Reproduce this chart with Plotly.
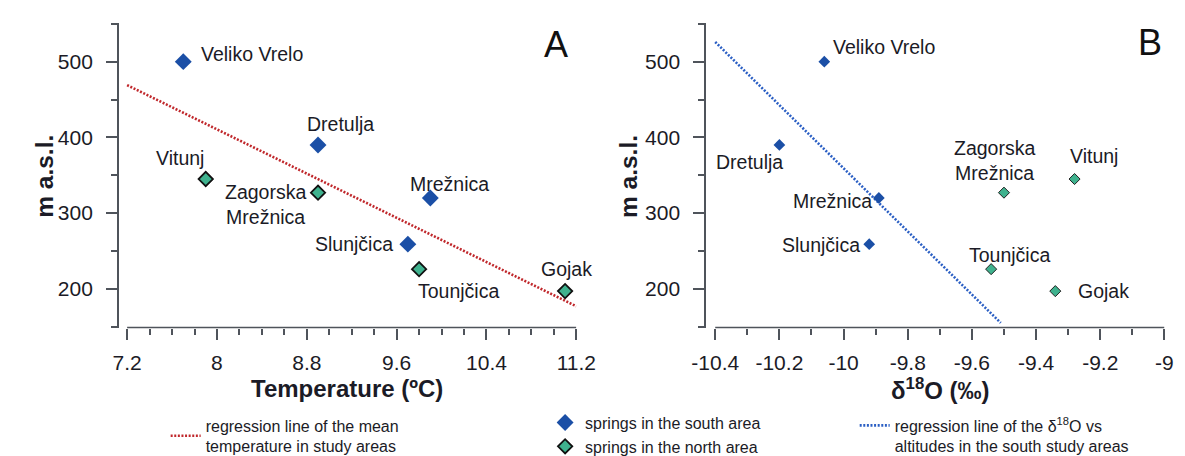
import plotly.graph_objects as go

# ---------------- data ----------------
south_names = ["Veliko Vrelo", "Dretulja", "Mrežnica", "Slunjčica"]
south_alt = [500, 390, 320, 259]
south_temp = [7.7, 8.9, 9.9, 9.7]
south_d18o = [-10.06, -10.20, -9.89, -9.92]

north_names = ["Vitunj", "Zagorska<br>Mrežnica", "Tounjčica", "Gojak"]
north_alt = [345, 327, 226, 197]
north_temp = [7.9, 8.9, 9.8, 11.1]
north_d18o = [-9.28, -9.50, -9.54, -9.34]

reg_a_temp = [7.2, 11.2]
reg_a_alt = [469, 177]
reg_b_d18o = [-10.4, -9.51]
reg_b_alt = [526, 155]

ticks_a_x = [7.2, 8.0, 8.8, 9.6, 10.4, 11.2]
ticks_a_x_text = ["7.2", "8", "8.8", "9.6", "10.4", "11.2"]
ticks_b_x = [-10.4, -10.2, -10.0, -9.8, -9.6, -9.4, -9.2, -9.0]
ticks_b_x_text = ["-10.4", "-10.2", "-10", "-9.8", "-9.6", "-9.4", "-9.2", "-9"]
ticks_y = [200, 300, 400, 500]
ticks_y_text = ["200", "300", "400", "500"]

legend_text_a = "regression line of the mean<br>temperature in study areas"
legend_text_south = "springs in the south area"
legend_text_north = "springs in the north area"
legend_text_b = "regression line of the δ<sup>18</sup>O vs<br>altitudes in the south study areas"

# ---------------- style ----------------
W, H = 1185, 456
FONT = "Arial, 'Liberation Sans', sans-serif"
TXT = "#1b1b26"
AX = "#4f545b"
BLUE = "#1b4fa6"
GREEN = "#3fb28e"
RED = "#c0282c"
LBLUE = "#2b5fc4"


def px(x):
    return x / W


def py(y):
    return 1 - y / H


fig = go.Figure()

# Panel A
fig.add_trace(go.Scatter(x=reg_a_temp, y=reg_a_alt, mode="lines",
                         line=dict(color=RED, width=2.6, dash="2px,1.6px"),
                         name=legend_text_a, legend="legend",
                         xaxis="x", yaxis="y"))
fig.add_trace(go.Scatter(x=south_temp, y=south_alt, mode="markers",
                         marker=dict(symbol="diamond", size=13, color=BLUE,
                                     line=dict(width=0)),
                         name=legend_text_south, legend="legend2",
                         xaxis="x", yaxis="y"))
fig.add_trace(go.Scatter(x=north_temp, y=north_alt, mode="markers",
                         marker=dict(symbol="diamond", size=11, color=GREEN,
                                     line=dict(width=1.8, color="#111111")),
                         name=legend_text_north, legend="legend2",
                         xaxis="x", yaxis="y"))
# Panel B
fig.add_trace(go.Scatter(x=reg_b_d18o, y=reg_b_alt, mode="lines",
                         line=dict(color=LBLUE, width=2.6, dash="2px,1.6px"),
                         name=legend_text_b, legend="legend3",
                         xaxis="x2", yaxis="y2"))
fig.add_trace(go.Scatter(x=south_d18o, y=south_alt, mode="markers",
                         marker=dict(symbol="diamond", size=9, color=BLUE,
                                     line=dict(width=0)),
                         showlegend=False, xaxis="x2", yaxis="y2"))
fig.add_trace(go.Scatter(x=north_d18o, y=north_alt, mode="markers",
                         marker=dict(symbol="diamond", size=8.5, color=GREEN,
                                     line=dict(width=1, color="#222222")),
                         showlegend=False, xaxis="x2", yaxis="y2"))

TICKFONT = dict(family=FONT, size=21, color=TXT)
ydom = [py(332), py(16)]
common_x = dict(showline=False, showgrid=False, zeroline=False,
                ticks="outside", ticklen=11, tickwidth=1.5, tickcolor=AX,
                tickfont=TICKFONT, tickmode="array", ticklabelstandoff=5)
common_y = dict(showline=True, linecolor=AX, linewidth=1.5, showgrid=False,
                zeroline=False, ticks="outside", ticklen=11, tickwidth=1.5,
                tickcolor=AX, tickfont=TICKFONT,
                tickmode="array", tickvals=ticks_y, ticktext=ticks_y_text,
                range=[148.8, 550.5], domain=ydom, ticklabelstandoff=9,
                minor=dict(ticks="outside", ticklen=6, tickwidth=1.5,
                           tickcolor=AX, dtick=50, tick0=0, showgrid=False))

xa = dict(common_x)
xa.update(domain=[px(98.7), px(570.2)], range=[7.1257, 11.2005],
          tickvals=ticks_a_x, ticktext=ticks_a_x_text, anchor="y",
          minor=dict(ticks="outside", ticklen=6, tickwidth=1.5, tickcolor=AX,
                     dtick=0.2, tick0=7.2, showgrid=False))
xb = dict(common_x)
xb.update(domain=[px(703.9), px(1176.3)], range=[-10.4284, -8.9995],
          tickvals=ticks_b_x, ticktext=ticks_b_x_text, anchor="y2",
          minor=dict(ticks="outside", ticklen=6, tickwidth=1.5, tickcolor=AX,
                     dtick=0.1, tick0=-10.4, showgrid=False))
ya = dict(common_y)
ya.update(anchor="x")
yb = dict(common_y)
yb.update(anchor="x2")

leg_common = dict(bgcolor="rgba(0,0,0,0)", borderwidth=0, itemwidth=30,
                  font=dict(family=FONT, size=16, color=TXT),
                  xanchor="left", yanchor="top", tracegroupgap=0,
                  itemsizing="trace", itemclick=False)

fig.update_layout(
    width=W, height=H, margin=dict(l=0, r=0, t=0, b=0),
    paper_bgcolor="white", plot_bgcolor="white",
    xaxis=xa, yaxis=ya, xaxis2=xb, yaxis2=yb,
    legend=dict(leg_common, x=px(147), y=py(416), valign="middle"),
    legend2=dict(leg_common, x=px(538), y=py(413)),
    legend3=dict(leg_common, x=px(857), y=py(416), valign="top"),
    showlegend=True,
)

# x-axis lines (detached from y-axis, spanning first to last tick)
for xref, tv in (("x", ticks_a_x), ("x2", ticks_b_x)):
    fig.add_shape(type="line", xref=xref, yref=xref.replace("x", "y") + " domain",
                  x0=tv[0], x1=tv[-1], y0=0, y1=0,
                  line=dict(color=AX, width=1.5))

# point labels: (xanchor, xshift, yshift)
lab_a = {
    "Veliko Vrelo": ("left", 16, 8),
    "Dretulja": ("center", 22, 21),
    "Mrežnica": ("center", 19, 14),
    "Slunjčica": ("right", -13, 0),
    "Vitunj": ("center", -26, 21),
    "Zagorska<br>Mrežnica": ("right", -10, -12),
    "Tounjčica": ("left", -3, -22),
    "Gojak": ("center", 1, 22),
}
lab_b = {
    "Veliko Vrelo": ("left", 7, 15),
    "Dretulja": ("center", -30, -17),
    "Mrežnica": ("right", -5, -3),
    "Slunjčica": ("right", -7, -1),
    "Vitunj": ("center", 19, 23),
    "Zagorska<br>Mrežnica": ("center", -9, 32),
    "Tounjčica": ("center", 18, 14),
    "Gojak": ("left", 21, 0),
}

for names, xs, xb_, ys in ((south_names, south_temp, south_d18o, south_alt),
                           (north_names, north_temp, north_d18o, north_alt)):
    for n, xv, xv2, yv in zip(names, xs, xb_, ys):
        anc, dx, dy = lab_a[n]
        fig.add_annotation(x=xv, y=yv, xref="x", yref="y", text=n,
                           showarrow=False, xanchor=anc, yanchor="middle",
                           xshift=dx, yshift=dy, align="center",
                           font=dict(family=FONT, size=19.5, color=TXT))
        anc, dx, dy = lab_b[n]
        fig.add_annotation(x=xv2, y=yv, xref="x2", yref="y2", text=n,
                           showarrow=False, xanchor=anc, yanchor="middle",
                           xshift=dx, yshift=dy, align="center",
                           font=dict(family=FONT, size=19.5, color=TXT))

# axis titles and panel letters
titles = [
    ("m a.s.l.", 22, 175, -90, 24.5),
    ("m a.s.l.", 624, 175, -90, 24.5),
    ("Temperature (ºC)", 334, 395, 0, 24),
    ("δ<sup>18</sup>O (‰)", 945, 396, 0, 24),
]
for t, x, y, ang, s in titles:
    fig.add_annotation(x=px(x), y=py(y), xref="paper", yref="paper",
                       text="<b>%s</b>" % t, showarrow=False, textangle=ang,
                       xanchor="center", yanchor="middle",
                       font=dict(family=FONT, size=s, color=TXT))
for t, x, y in (("A", 549, 38), ("B", 1161.5, 36)):
    fig.add_annotation(x=px(x), y=py(y), xref="paper", yref="paper", text=t,
                       showarrow=False, xanchor="center", yanchor="middle",
                       font=dict(family=FONT, size=36, color="#111111"))

fig.write_html("out.html")
